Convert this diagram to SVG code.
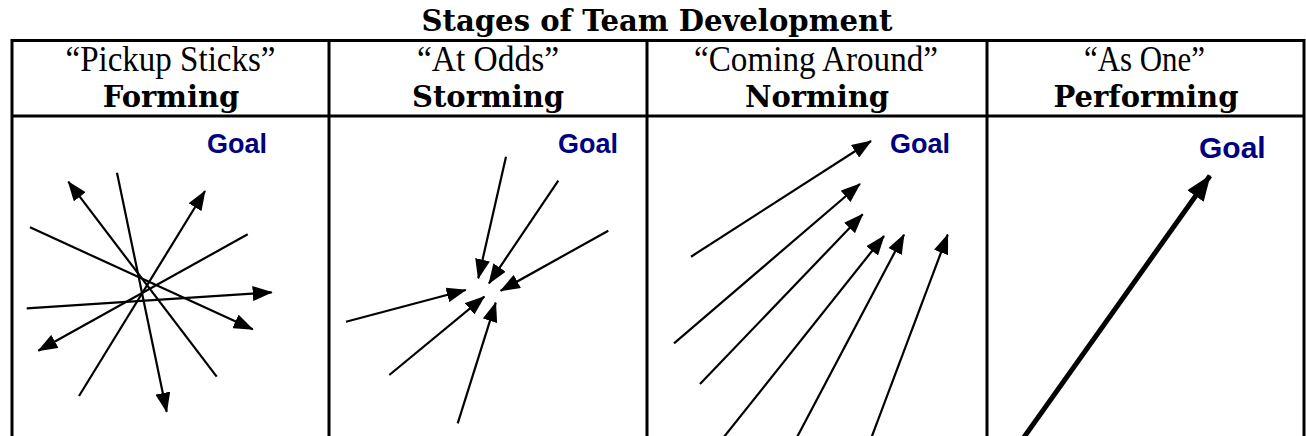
<svg xmlns="http://www.w3.org/2000/svg" width="1306" height="436" viewBox="0 0 1306 436">
  <style>
    .title { font-family: "DejaVu Serif", "Liberation Serif", serif; font-weight: bold; font-size: 29px; fill: #000; text-anchor: middle; }
    .nick { font-family: "Liberation Serif", "Times New Roman", serif; font-size: 35px; fill: #000; text-anchor: middle; }
    .stage { font-family: "DejaVu Serif", "Liberation Serif", serif; font-weight: bold; font-size: 29px; fill: #000; text-anchor: middle; }
    .goal { font-family: "Liberation Sans", Arial, sans-serif; font-weight: bold; font-size: 27px; fill: #000080; }
    .grid { stroke: #000; stroke-width: 3; fill: none; }
    .stick { stroke: #000; stroke-width: 2.2; fill: none; marker-end: url(#head); }
    .bold-stick { stroke: #000; stroke-width: 5; fill: none; marker-end: url(#bighead); }
  </style>
  <defs>
    <marker id="head" markerUnits="userSpaceOnUse" viewBox="0 0 20 15" refX="19" refY="7.5" markerWidth="20" markerHeight="15" orient="auto">
      <path d="M0,0 L20,7.5 L0,15 Z" fill="#000"/>
    </marker>
    <marker id="bighead" markerUnits="userSpaceOnUse" viewBox="0 0 26 20" refX="25" refY="10" markerWidth="26" markerHeight="20" orient="auto">
      <path d="M0,0 L26,10 L0,20 Z" fill="#000"/>
    </marker>
  </defs>

  <rect width="1306" height="436" fill="#fff"/>

  <text class="title" x="657" y="31" textLength="471" lengthAdjust="spacingAndGlyphs">Stages of Team Development</text>

  <!-- table grid -->
  <g id="table">
    <path class="grid" d="M12,40.5 H1304 M12,116 H1304 M12,39 V440 M1304,39 V440 M329,39 V440 M647,39 V440 M987,39 V440"/>
  </g>

  <!-- column headers -->
  <g id="forming-header">
    <text class="nick" x="170.5" y="71" textLength="210" lengthAdjust="spacingAndGlyphs">“Pickup Sticks”</text>
    <text class="stage" x="171" y="107">Forming</text>
  </g>
  <g id="storming-header">
    <text class="nick" x="488" y="71" textLength="142" lengthAdjust="spacingAndGlyphs">“At Odds”</text>
    <text class="stage" x="488" y="107">Storming</text>
  </g>
  <g id="norming-header">
    <text class="nick" x="816" y="71" textLength="244" lengthAdjust="spacingAndGlyphs">“Coming Around”</text>
    <text class="stage" x="817" y="107">Norming</text>
  </g>
  <g id="performing-header">
    <text class="nick" x="1144.5" y="71" textLength="121" lengthAdjust="spacingAndGlyphs">“As One”</text>
    <text class="stage" x="1146" y="107">Performing</text>
  </g>

  <!-- goal labels -->
  <g id="goal-forming"><text class="goal" x="207" y="153">Goal</text></g>
  <g id="goal-storming"><text class="goal" x="558" y="153">Goal</text></g>
  <g id="goal-norming"><text class="goal" x="890" y="153">Goal</text></g>
  <g id="goal-performing"><text class="goal" x="1199" y="158" style="font-size:30px">Goal</text></g>

  <!-- connectors -->
  <g id="connectors">
    <!-- Forming: scattered directions -->
    <line class="stick" x1="117" y1="172.7" x2="166.7" y2="411.7"/>
    <line class="stick" x1="216.7" y1="376.7" x2="68.3" y2="181.7"/>
    <line class="stick" x1="79" y1="396" x2="205" y2="191"/>
    <line class="stick" x1="30" y1="227.3" x2="252.7" y2="329.3"/>
    <line class="stick" x1="247.7" y1="234.3" x2="38.3" y2="350.7"/>
    <line class="stick" x1="26.7" y1="308.3" x2="271.7" y2="292.3"/>

    <!-- Storming: colliding at a point -->
    <line class="stick" x1="506" y1="156.7" x2="478.3" y2="278.3"/>
    <line class="stick" x1="558.3" y1="180.7" x2="489" y2="283.3"/>
    <line class="stick" x1="608.3" y1="230.7" x2="500.7" y2="290.7"/>
    <line class="stick" x1="346" y1="321.7" x2="465.7" y2="290"/>
    <line class="stick" x1="389.3" y1="375" x2="484.3" y2="296.7"/>
    <line class="stick" x1="457.7" y1="423.3" x2="495.7" y2="302.7"/>

    <!-- Norming: converging toward the goal -->
    <line class="stick" x1="691" y1="256.7" x2="871" y2="141"/>
    <line class="stick" x1="674" y1="343.3" x2="860" y2="184"/>
    <line class="stick" x1="700" y1="384" x2="862.7" y2="214.3"/>
    <line class="stick" x1="721.5" y1="440" x2="884" y2="236"/>
    <line class="stick" x1="795.5" y1="440" x2="904" y2="234.7"/>
    <line class="stick" x1="870.5" y1="440" x2="947.7" y2="234.7"/>

    <!-- Performing: one direction -->
    <line class="bold-stick" x1="1022" y1="440" x2="1210" y2="175.7"/>
  </g>
</svg>
